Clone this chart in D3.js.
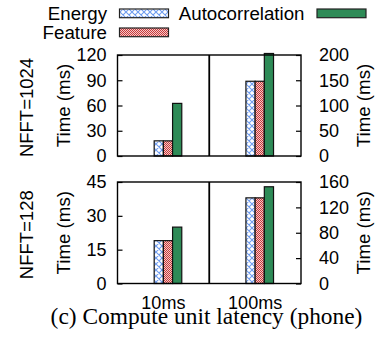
<!DOCTYPE html>
<html>
<head>
<meta charset="utf-8">
<script src="https://cdn.jsdelivr.net/npm/d3@7"></script>
<style>
  body { margin: 0; background: #fff; }
  svg { display: block; }
  .axis text { font-family: 'Liberation Sans', Arial, sans-serif; font-size: 18px; fill: #000; }
  .axis line { stroke: #000; stroke-width: 1.2; }
</style>
</head>
<body>
<script>
const categories = ['10ms', '100ms']
const seriesNames = ['Energy', 'Feature', 'Autocorrelation']
// 10ms is read on the left axis, 100ms on the right axis
const energy1024 = [18, 148]
const feature1024 = [18, 148]
const autocorr1024 = [62.5, 203]
const energy128 = [19, 135]
const feature128 = [19, 135]
const autocorr128 = [25, 152.5]
const leftTicks1024 = [0, 30, 60, 90, 120]
const rightTicks1024 = [0, 50, 100, 150, 200]
const leftTicks128 = [0, 15, 30, 45]
const rightTicks128 = [0, 40, 80, 120, 160]
const panelNames = ['NFFT=1024', 'NFFT=128']

const width = 380
const height = 346
const left = 117.5
const right = 301
const barW = 9.2
const colors = { Energy: 'url(#pEnergy)', Feature: 'url(#pFeature)', Autocorrelation: '#2e8b57' }

const svg = d3.select('body').append('svg')
  .attr('width', width)
  .attr('height', height)

const defs = svg.append('defs')
const pe = defs.append('pattern').attr('id', 'pEnergy')
  .attr('patternUnits', 'userSpaceOnUse').attr('width', 6).attr('height', 6)
pe.append('rect').attr('width', 6).attr('height', 6).attr('fill', '#fff')
pe.append('path').attr('d', 'M0,0L6,6M6,0L0,6M-1,5L1,7M5,-1L7,1M5,7L7,5M-1,1L1,-1')
  .attr('stroke', '#6f9cf0').attr('stroke-width', 1.1)
const pf = defs.append('pattern').attr('id', 'pFeature')
  .attr('patternUnits', 'userSpaceOnUse').attr('width', 2).attr('height', 2)
pf.append('rect').attr('width', 2).attr('height', 2).attr('fill', '#f4c8c8')
pf.append('rect').attr('width', 1).attr('height', 1).attr('fill', '#c83a3a')
pf.append('rect').attr('x', 1).attr('y', 1).attr('width', 1).attr('height', 1).attr('fill', '#c83a3a')

const xScale = d3.scaleBand().domain(categories).range([left, right])
const xSub = d3.scaleBand().domain(seriesNames).range([-barW, 2 * barW])

const panels = [
  { top: 55, bottom: 156, name: panelNames[0], lt: leftTicks1024, rt: rightTicks1024,
    values: [energy1024, feature1024, autocorr1024] },
  { top: 182, bottom: 283.5, name: panelNames[1], lt: leftTicks128, rt: rightTicks128,
    values: [energy128, feature128, autocorr128] }
]

panels.forEach(function (p) {
  const g = svg.append('g')
  const yLeft = d3.scaleLinear().domain([0, d3.max(p.lt)]).range([p.bottom, p.top])
  const yRight = d3.scaleLinear().domain([0, d3.max(p.rt)]).range([p.bottom, p.top])
  const yFor = function (ci) { return ci === 0 ? yLeft : yRight }

  const bars = []
  categories.forEach(function (c, ci) {
    seriesNames.forEach(function (s, si) {
      bars.push({ cat: c, ci: ci, series: s, value: p.values[si][ci] })
    })
  })

  g.selectAll('rect.bar')
    .data(bars)
    .enter()
    .append('rect')
    .attr('class', 'bar')
    .attr('x', function (d) { return xScale(d.cat) + xScale.bandwidth() / 2 + xSub(d.series) })
    .attr('y', function (d) { return yFor(d.ci)(d.value) })
    .attr('width', xSub.bandwidth())
    .attr('height', function (d) { return p.bottom - yFor(d.ci)(d.value) })
    .attr('fill', function (d) { return colors[d.series] })
    .attr('stroke', '#111')
    .attr('stroke-width', 1.2)

  g.append('g')
    .attr('class', 'axis')
    .attr('transform', `translate(${left}, 0)`)
    .call(d3.axisLeft(yLeft).tickValues(p.lt).tickSize(-5).tickPadding(11))
    .call(function (a) { a.select('.domain').remove() })
  g.append('g')
    .attr('class', 'axis')
    .attr('transform', `translate(${right}, 0)`)
    .call(d3.axisRight(yRight).tickValues(p.rt).tickSize(-5).tickPadding(18))
    .call(function (a) { a.select('.domain').remove() })

  g.append('rect')
    .attr('x', left).attr('y', p.top)
    .attr('width', right - left).attr('height', p.bottom - p.top)
    .attr('fill', 'none').attr('stroke', '#000').attr('stroke-width', 1.4)
  g.append('line')
    .attr('x1', xScale(categories[1])).attr('x2', xScale(categories[1]))
    .attr('y1', p.top).attr('y2', p.bottom)
    .attr('stroke', '#000').attr('stroke-width', 1.8)

  const mid = (p.top + p.bottom) / 2
  const labelFont = "'Liberation Sans', Arial, sans-serif"
  g.append('text')
    .attr('transform', `translate(${63 + 6.5}, ${mid}) rotate(-90)`)
    .attr('text-anchor', 'middle')
    .attr('font-family', labelFont).attr('font-size', '18.7px')
    .text('Time (ms)')
  g.append('text')
    .attr('transform', `translate(${363 + 6.5}, ${mid}) rotate(-90)`)
    .attr('text-anchor', 'middle')
    .attr('font-family', labelFont).attr('font-size', '18.7px')
    .text('Time (ms)')
  g.append('text')
    .attr('transform', `translate(${26 + 6.5}, ${mid + 2}) rotate(-90)`)
    .attr('text-anchor', 'middle')
    .attr('font-family', labelFont).attr('font-size', '18.5px')
    .text(p.name)
})

svg.append('g')
  .selectAll('text')
  .data(categories)
  .enter()
  .append('text')
  .attr('x', function (d) { return xScale(d) + xScale.bandwidth() / 2 })
  .attr('y', 309)
  .attr('text-anchor', 'middle')
  .attr('font-family', "'Liberation Sans', Arial, sans-serif")
  .attr('font-size', '18px')
  .text(function (d) { return d })

// legend
const legendItems = [
  { name: 'Energy', tx: 107, y: 9 },
  { name: 'Feature', tx: 107, y: 28 },
  { name: 'Autocorrelation', tx: 304.5, y: 9 }
]
const lg = svg.append('g')
lg.selectAll('text')
  .data(legendItems)
  .enter()
  .append('text')
  .attr('x', function (d) { return d.tx })
  .attr('y', function (d) { return d.y + 10.5 })
  .attr('text-anchor', 'end')
  .attr('font-family', "'Liberation Sans', Arial, sans-serif")
  .attr('font-size', '18.7px')
  .text(function (d) { return d.name })
lg.selectAll('rect')
  .data(legendItems)
  .enter()
  .append('rect')
  .attr('x', function (d) { return d.tx + 12.5 })
  .attr('y', function (d) { return d.y })
  .attr('width', 49)
  .attr('height', 8.7)
  .attr('fill', function (d) { return colors[d.name] })
  .attr('stroke', '#222')
  .attr('stroke-width', 1.2)

svg.append('text')
  .attr('x', 206.5)
  .attr('y', 324)
  .attr('text-anchor', 'middle')
  .attr('font-family', "'Liberation Serif', 'Times New Roman', serif")
  .attr('font-size', '23.4px')
  .text('(c) Compute unit latency (phone)')
</script>
</body>
</html>
